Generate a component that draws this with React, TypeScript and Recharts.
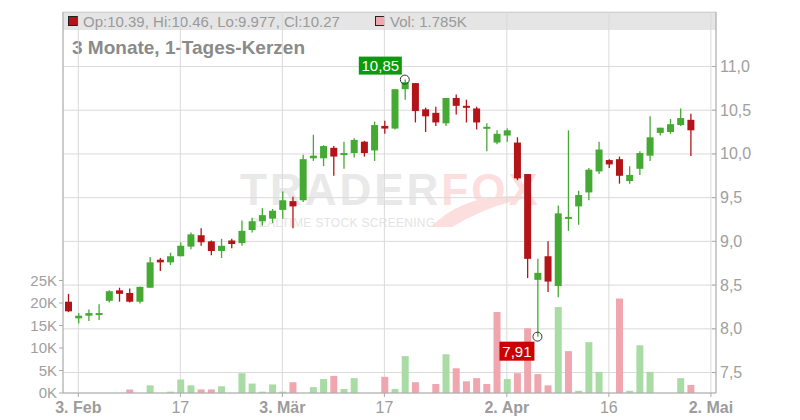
import { ComposedChart, Bar, XAxis, YAxis, CartesianGrid, Cell, ReferenceDot } from "recharts";

// daily candles, 31 Jan .. 30 Apr (index = trading day)
const openP = [8.31, 8.12, 8.15, 8.16, 8.32, 8.44, 8.41, 8.31, 8.47, 8.79, 8.76, 8.83, 8.94, 9.07, 9.0, 8.89, 9.01, 8.98, 9.13, 9.23, 9.26, 9.36, 9.46, 9.47, 9.95, 9.95, 10.07, 9.99, 10.01, 10.14, 10.04, 10.32, 10.29, 10.74, 10.81, 10.51, 10.47, 10.35, 10.64, 10.55, 10.52, 10.3, 10.13, 10.21, 10.13, 9.77, 8.56, 8.83, 8.49, 9.26, 9.4, 9.56, 9.8, 9.93, 9.94, 9.69, 9.83, 9.98, 10.24, 10.25, 10.33, 10.39];
const highP = [8.4, 8.18, 8.22, 8.28, 8.44, 8.47, 8.46, 8.48, 8.82, 8.81, 8.87, 8.99, 9.1, 9.15, 9.01, 9.03, 9.03, 9.24, 9.27, 9.38, 9.37, 9.57, 9.51, 9.99, 10.22, 10.1, 10.09, 10.14, 10.18, 10.15, 10.37, 10.38, 10.74, 10.85, 10.81, 10.53, 10.54, 10.64, 10.68, 10.62, 10.54, 10.35, 10.27, 10.29, 10.19, 9.77, 8.8, 9.0, 9.41, 10.27, 9.58, 9.84, 10.14, 9.94, 9.97, 9.86, 10.03, 10.43, 10.3, 10.4, 10.52, 10.46];
const lowP = [8.19, 8.06, 8.09, 8.1, 8.3, 8.31, 8.3, 8.29, 8.47, 8.66, 8.73, 8.83, 8.91, 8.95, 8.84, 8.81, 8.92, 8.95, 9.1, 9.18, 9.21, 9.26, 9.15, 9.45, 9.92, 9.86, 9.75, 9.83, 9.96, 9.97, 9.92, 10.23, 10.28, 10.62, 10.36, 10.25, 10.32, 10.32, 10.45, 10.36, 10.28, 10.03, 10.11, 10.14, 9.7, 8.58, 7.91, 8.42, 8.36, 9.12, 9.19, 9.47, 9.77, 9.84, 9.66, 9.66, 9.76, 9.92, 10.21, 10.23, 10.32, 9.977];
const closeP = [8.2, 8.15, 8.18, 8.18, 8.43, 8.4, 8.31, 8.48, 8.76, 8.76, 8.83, 8.95, 9.08, 8.99, 8.89, 8.95, 8.97, 9.12, 9.23, 9.3, 9.35, 9.47, 9.4, 9.94, 9.98, 10.09, 9.97, 10.01, 10.16, 10.01, 10.33, 10.29, 10.74, 10.82, 10.49, 10.43, 10.36, 10.64, 10.55, 10.54, 10.36, 10.31, 10.23, 10.27, 9.72, 8.8, 8.64, 8.54, 9.32, 9.28, 9.53, 9.82, 10.05, 9.88, 9.75, 9.76, 10.01, 10.19, 10.3, 10.34, 10.41, 10.27];
// volume in thousands
const volK = [0, 0, 0, 0, 0, 0, 0.8, 0, 1.7, 0, 0.3, 3.0, 1.7, 0.8, 0.8, 1.5, 0, 4.4, 2.1, 0.3, 1.9, 0.3, 2.4, 0, 1.3, 3.1, 3.8, 0.9, 3.3, 0, 0, 3.6, 0.9, 8.2, 2.4, 0, 2.0, 8.6, 5.5, 2.6, 3.3, 2.0, 18.0, 3.1, 4.4, 14.4, 4.2, 1.7, 19.1, 9.3, 0.5, 11.3, 4.7, 0, 21.0, 0.5, 10.6, 4.7, 0, 0, 3.3, 1.785];

const tickDays = [1, 11, 21, 31, 43, 53, 63];
const tickLabels = ["3. Feb", "17", "3. Mär", "17", "2. Apr", "16", "2. Mai"];
const priceTicks = [7.5, 8, 8.5, 9, 9.5, 10, 10.5, 11];
const volTicks = [0, 5, 10, 15, 20, 25];

const GREEN = "#45aa33";
const RED = "#b31419";
const VOL_GREEN = "#a9dca5";
const VOL_RED = "#f0a6ae";
const FONT = "'Liberation Sans', Arial, sans-serif";

const rows = openP.map((o, i) => ({
  i,
  o,
  h: highP[i],
  l: lowP[i],
  c: closeP[i],
  v: volK[i],
  volUp: i === 0 ? closeP[i] >= o : closeP[i] >= closeP[i - 1],
}));

const comma = (v: number, d: number) => v.toFixed(d).replace(".", ",");

const Candle = (props: any) => {
  const { x, y, width, height, payload } = props;
  if (!payload) return null;
  const { o, h, l, c } = payload;
  const color = c >= o ? GREEN : RED;
  const top = Math.min(y, y + height);
  const span = Math.abs(height);
  const k = span / Math.max(h - l, 1e-6);
  const py = (v: number) => top + (h - v) * k;
  const bt = py(Math.max(o, c));
  const bb = py(Math.min(o, c));
  const cx = x + width / 2;
  return (
    <g>
      <line x1={cx} x2={cx} y1={top} y2={top + span} stroke={color} strokeWidth={1.3} />
      <rect x={x} y={bt} width={width} height={Math.max(bb - bt, 2)} fill={color} />
    </g>
  );
};

const DayTick = ({ x, y, payload }: any) => {
  const k = tickDays.indexOf(payload.value);
  const label = k >= 0 ? tickLabels[k] : "";
  return (
    <text x={x} y={y} dy={14} textAnchor="middle" fontSize={16} fontFamily={FONT}
      fontWeight={label.includes(".") ? 700 : 400} fill="#9c9c9c">
      {label}
    </text>
  );
};

const PriceTick = ({ x, y, payload }: any) => (
  <g>
    <line x1={x - 4} x2={x} y1={y} y2={y} stroke="#aaa" />
    <text x={x + 4} y={y} dy={5.5} fontSize={16} fontFamily={FONT} fill="#a0a0a0">
      {comma(payload.value, 1)}
    </text>
  </g>
);

const hiIdx = highP.indexOf(Math.max(...highP));
const loIdx = lowP.indexOf(Math.min(...lowP));

const HiMark = ({ cx, cy }: any) => (
  <g>
    <rect x={cx - 46} y={cy - 23} width={43} height={18} fill="#0b9a0b" />
    <text x={cx - 24.5} y={cy - 9} textAnchor="middle" fontSize={15} fontFamily={FONT} fill="#fff">
      {comma(highP[hiIdx], 2)}
    </text>
    <circle cx={cx} cy={cy} r={4.5} fill="none" stroke="#333" />
  </g>
);

const LoMark = ({ cx, cy }: any) => (
  <g>
    <rect x={cx - 38} y={cy + 5} width={35} height={19} fill="#cc0000" />
    <text x={cx - 20.5} y={cy + 20.5} textAnchor="middle" fontSize={15} fontFamily={FONT} fill="#fff">
      {comma(lowP[loIdx], 2)}
    </text>
    <circle cx={cx} cy={cy} r={4.5} fill="none" stroke="#333" />
  </g>
);

const last = rows.length - 1;

export default function App() {
  return (
    <div style={{ position: "fixed", left: 0, top: 0, width: 800, height: 420, background: "#fff", fontFamily: FONT }}>
      <svg width={800} height={420} style={{ position: "absolute", left: 0, top: 0 }}>
        <rect x={63} y={12} width={653} height={18} fill="#e5e5e5" />
        <line x1={63} x2={716} y1={12.5} y2={12.5} stroke="#c8c8c8" />
        {/* watermark logo */}
        <path d="M431,227 Q466,190 534,197 Q492,203 452,227 Z" fill="#fcdede" />
        <text x={240} y={205} fontSize={44} fontWeight={700} letterSpacing={3} fill="#e9e9e9" fontFamily={FONT}>
          TRADER<tspan fill="#fcdede">FOX</tspan>
        </text>
        <text x={250} y={227} fontSize={12} letterSpacing={0.3} fill="#e4e4e4" fontFamily={FONT}>REALTIME STOCK SCREENING</text>
        {/* header */}
        <rect x={68.5} y={16.5} width={9} height={9} fill={RED} stroke="#222" />
        <text x={83} y={27} fontSize={15} fill="#9a9a9a" fontFamily={FONT}>
          {`Op:${openP[last]}, Hi:${highP[last]}, Lo:${lowP[last]}, Cl:${closeP[last]}`}
        </text>
        <rect x={375.5} y={16.5} width={9} height={9} fill={VOL_RED} stroke="#222" />
        <text x={390} y={27} fontSize={15} fill="#9a9a9a" fontFamily={FONT}>{`Vol: ${volK[last]}K`}</text>
        <text x={72} y={54} fontSize={19} fontWeight={700} fill="#8a8a8a" fontFamily={FONT}>3 Monate, 1-Tages-Kerzen</text>
      </svg>
      <div style={{ position: "absolute", left: 0, top: 0 }}>
        <ComposedChart width={800} height={420} data={rows} margin={{ top: 12, right: 0, bottom: 0, left: 0 }}>
          <CartesianGrid yAxisId="price" stroke="#dadada" />
          <XAxis dataKey="i" type="number" domain={[-0.5, 63.5]} ticks={tickDays} interval={0}
            height={27} tickSize={4} tickMargin={2} stroke="#aaa" tick={<DayTick />} allowDataOverflow />
          <XAxis xAxisId="v" dataKey="i" type="number" domain={[-0.5, 63.5]} hide allowDataOverflow />
          <YAxis yAxisId="vol" orientation="left" width={63} domain={[0, 84.67]} ticks={volTicks}
            interval={0} tickSize={4} tickMargin={2} stroke="#aaa" allowDataOverflow
            tick={{ fill: "#a0a0a0", fontSize: 15, fontFamily: FONT }} tickFormatter={(v: number) => `${v}K`} />
          <YAxis yAxisId="price" orientation="right" width={84} domain={[7.266, 11.623]} ticks={priceTicks}
            interval={0} tickSize={0} tickMargin={0} stroke="#aaa" tick={<PriceTick />} allowDataOverflow />
          <Bar xAxisId="v" yAxisId="vol" dataKey="v" barSize={7} isAnimationActive={false}>
            {rows.map((r) => (
              <Cell key={r.i} fill={r.volUp ? VOL_GREEN : VOL_RED} />
            ))}
          </Bar>
          <Bar yAxisId="price" dataKey={(d: any) => [d.l, d.h]} barSize={7} isAnimationActive={false}
            shape={(p: any) => <Candle {...p} />} />
          <ReferenceDot x={hiIdx} y={highP[hiIdx]} yAxisId="price" r={4.5} shape={(p: any) => <HiMark {...p} />} />
          <ReferenceDot x={loIdx} y={lowP[loIdx]} yAxisId="price" r={4.5} shape={(p: any) => <LoMark {...p} />} />
        </ComposedChart>
      </div>
    </div>
  );
}
